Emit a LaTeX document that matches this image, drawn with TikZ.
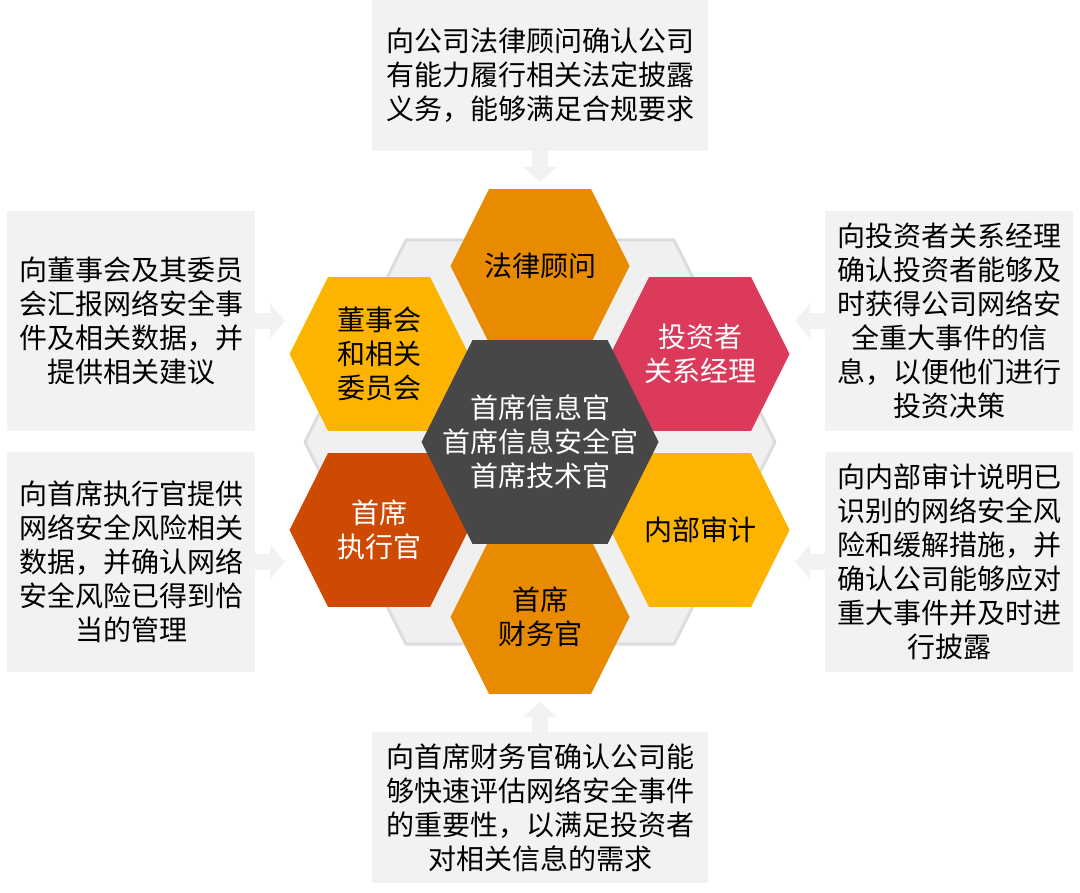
\documentclass[tikz,border=0pt]{standalone}
\usepackage{fontspec}
\setmainfont{Noto Sans CJK SC}
\usetikzlibrary{arrows.meta}
\definecolor{boxgray}{HTML}{F2F2F2}
\definecolor{bgfill}{HTML}{F0F0F0}
\definecolor{bgline}{HTML}{DCDCDC}
\definecolor{hexorange}{HTML}{E88B00}
\definecolor{hexamber}{HTML}{FDB400}
\definecolor{hexred}{HTML}{DB3A5A}
\definecolor{hexrust}{HTML}{CE4A02}
\definecolor{hexdark}{HTML}{474747}
% flat-topped hexagon: centre x, centre y, half width
\newcommand{\hexa}[3]{(#1-#3,#2) -- (#1-0.57*#3,#2-0.86*#3) -- (#1+0.57*#3,#2-0.86*#3) -- (#1+#3,#2) -- (#1+0.57*#3,#2+0.86*#3) -- (#1-0.57*#3,#2+0.86*#3) -- cycle}
\begin{document}
\begin{tikzpicture}[x=0.75pt,y=-0.75pt,
    hexlabel/.style={align=center,font=\fontsize{21}{25.5}\selectfont},
    infobox/.style={fill=boxgray,align=center,inner sep=0pt,font=\fontsize{21}{25.5}\selectfont},
    sidebox/.style={infobox,minimum width=186pt,minimum height=165pt},
    flow/.style={draw=boxgray,line width=12pt,-{Triangle[width=25.5pt,length=11.25pt]}}]
  \useasboundingbox (0,0) rectangle (1080,892);
  \filldraw[fill=bgfill,draw=bgline,line width=2.25pt,line join=round] \hexa{540}{442}{235};
  \fill[hexorange] \hexa{540}{266}{89.5};
  \fill[hexamber] \hexa{379}{354}{89.5};
  \fill[hexred] \hexa{700}{354}{89.5};
  \fill[hexrust] \hexa{379}{530}{89.5};
  \fill[hexamber] \hexa{700}{530}{89.5};
  \fill[hexorange] \hexa{540}{617}{89.5};
  \fill[hexdark] \hexa{540}{442}{118.5};
  \draw
    (540,266) node[hexlabel] (law){法律顾问}
    (379,354) node[hexlabel] (board){董事会\\和相关\\委员会}
    (700,354) node[hexlabel,text=white] (ir){投资者\\关系经理}
    (379,530) node[hexlabel,text=white] (ceo){首席\\执行官}
    (700,530) node[hexlabel] (audit){内部审计}
    (540,617) node[hexlabel] (cfo){首席\\财务官}
    (540,442) node[hexlabel,text=white] (ciso){首席信息官\\首席信息安全官\\首席技术官};
  \draw
    (540,75.5) node[infobox,minimum width=252pt,minimum height=113.25pt] (tolaw){向公司法律顾问确认公司\\有能力履行相关法定披露\\义务，能够满足合规要求}
    (131,321) node[sidebox] (toboard){向董事会及其委员\\会汇报网络安全事\\件及相关数据，并\\提供相关建议}
    (131,562) node[sidebox] (toceo){向首席执行官提供\\网络安全风险相关\\数据，并确认网络\\安全风险已得到恰\\当的管理}
    (949,321) node[sidebox] (toir){向投资者关系经理\\确认投资者能够及\\时获得公司网络安\\全重大事件的信\\息，以便他们进行\\投资决策}
    (949,562) node[sidebox] (toaudit){向内部审计说明已\\识别的网络安全风\\险和缓解措施，并\\确认公司能够应对\\重大事件并及时进\\行披露}
    (540,807.5) node[infobox,minimum width=252pt,minimum height=113.25pt] (tocfo){向首席财务官确认公司能\\够快速评估网络安全事件\\的重要性，以满足投资者\\对相关信息的需求};
  \coordinate (lawin) at (540,182);
  \coordinate (boardin) at (285,321);
  \coordinate (ceoin) at (285,562);
  \coordinate (irin) at (795,321);
  \coordinate (auditin) at (795,562);
  \coordinate (cfoin) at (540,702);
  \begin{scope}[flow]
    \draw (tolaw) to (lawin);
    \draw (toboard) to (boardin);
    \draw (toceo) to (ceoin);
    \draw (toir) to (irin);
    \draw (toaudit) to (auditin);
    \draw (tocfo) to (cfoin);
  \end{scope}
\end{tikzpicture}
\end{document}
